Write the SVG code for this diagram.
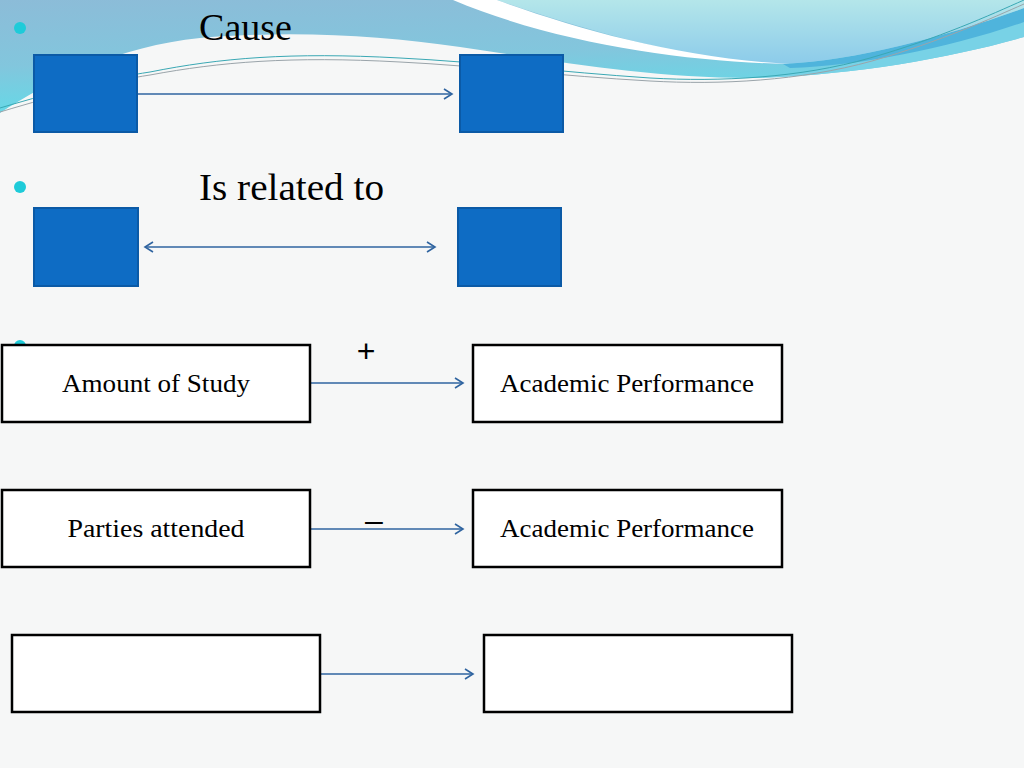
<svg xmlns="http://www.w3.org/2000/svg" width="1024" height="768" viewBox="0 0 1024 768">
<style>
.bullet{fill:#1ecbd9}
.sq{fill:#0e6cc4;stroke:#0b5aa6;stroke-width:2}
.box{fill:#ffffff;stroke:#000000;stroke-width:2.5}
.title{font-family:"Liberation Serif",serif;font-size:38px;fill:#000}
.lbl{font-family:"Liberation Serif",serif;font-size:25px;fill:#000;text-anchor:middle}
.sign{font-family:"Liberation Sans",sans-serif;font-size:32px;fill:#000;text-anchor:middle}
.conn{stroke:#2f64a0;stroke-width:1.6;fill:none}
</style>
<defs>
<marker id="arr" markerWidth="12" markerHeight="12" refX="9" refY="6" orient="auto" markerUnits="userSpaceOnUse">
<path d="M1,1 L9,6 L1,11" fill="none" stroke="#2f64a0" stroke-width="1.6"/>
</marker>
<marker id="arrS" markerWidth="12" markerHeight="12" refX="3" refY="6" orient="auto" markerUnits="userSpaceOnUse">
<path d="M11,1 L3,6 L11,11" fill="none" stroke="#2f64a0" stroke-width="1.6"/>
</marker>
<linearGradient id="gLeft" x1="0" y1="0" x2="0.25" y2="1">
<stop offset="0" stop-color="#8cbcd8"/>
<stop offset="0.55" stop-color="#82c6dd"/>
<stop offset="1" stop-color="#62dbe8"/>
</linearGradient>
<linearGradient id="gTop" x1="0" y1="0" x2="0" y2="1">
<stop offset="0" stop-color="#b4e6ea"/>
<stop offset="1" stop-color="#8ccbea"/>
</linearGradient>
</defs>
<rect width="1024" height="768" fill="#f6f7f7"/>
<g id="background">
<path d="M0,0 H1024 V37 C950,58 850,76 750,78 C650,78 560,62 460,47 C380,36 300,30 200,38 C120,46 50,80 0,113 Z" fill="url(#gLeft)"/>
<path d="M1024,37 C950,58 850,76 750,78 C800,74 880,60 950,40 C985,30 1005,22 1024,14 Z" fill="#78d2e6"/>
<path d="M783,64 C860,60 950,35 1024,8 V22 C950,48 860,66 790,68 Z" fill="#4fb4dc"/>
<path d="M497,0 H1024 V8 C950,35 860,60 783,64 C700,62 600,35 497,0 Z" fill="url(#gTop)"/>
<path d="M453,0 H497 C580,30 680,58 790,64 C690,62 560,45 453,0 Z" fill="#ffffff"/>
<path d="M0,108 C60,90 110,78 150,72 C220,58 290,52 400,58 C480,62 560,72 650,78 C720,82 800,78 870,58 C940,38 990,15 1024,0" fill="none" stroke="#3aa8b4" stroke-width="1"/>
<path d="M0,112 C60,94 110,81 150,75 C220,62 290,56 400,62 C480,66 560,76 650,81 C720,85 800,81 872,61 C942,41 992,18 1024,4" fill="none" stroke="#9aa4aa" stroke-width="1"/>
</g>
<g id="bullets">
<circle class="bullet" cx="20" cy="28" r="6"/>
<circle class="bullet" cx="20" cy="187" r="6"/>
<circle class="bullet" cx="20" cy="346" r="6"/>
</g>
<text class="title" x="199" y="40" textLength="93" lengthAdjust="spacingAndGlyphs">Cause</text>
<text class="title" x="199" y="200" textLength="185" lengthAdjust="spacingAndGlyphs">Is related to</text>
<g id="connectors">
<line class="conn" x1="137" y1="94" x2="452" y2="94" marker-end="url(#arr)"/>
<line class="conn" x1="145" y1="247" x2="435" y2="247" marker-start="url(#arrS)" marker-end="url(#arr)"/>
<line class="conn" x1="311" y1="383" x2="463" y2="383" marker-end="url(#arr)"/>
<line class="conn" x1="311" y1="529" x2="463" y2="529" marker-end="url(#arr)"/>
<line class="conn" x1="321" y1="674" x2="473" y2="674" marker-end="url(#arr)"/>
</g>
<g id="cause-a"><rect class="sq" x="34" y="55" width="103" height="77"/></g>
<g id="cause-b"><rect class="sq" x="460" y="55" width="103" height="77"/></g>
<g id="rel-a"><rect class="sq" x="34" y="208" width="104" height="78"/></g>
<g id="rel-b"><rect class="sq" x="458" y="208" width="103" height="78"/></g>
<g id="study"><rect class="box" x="2" y="345" width="308" height="77"/><text class="lbl" x="156" y="392" textLength="188" lengthAdjust="spacingAndGlyphs">Amount of Study</text></g>
<g id="perf1"><rect class="box" x="473" y="345" width="309" height="77"/><text class="lbl" x="627" y="392" textLength="254" lengthAdjust="spacingAndGlyphs">Academic Performance</text></g>
<g id="parties"><rect class="box" x="2" y="490" width="308" height="77"/><text class="lbl" x="156" y="537" textLength="177" lengthAdjust="spacingAndGlyphs">Parties attended</text></g>
<g id="perf2"><rect class="box" x="473" y="490" width="309" height="77"/><text class="lbl" x="627" y="537" textLength="254" lengthAdjust="spacingAndGlyphs">Academic Performance</text></g>
<g id="blank-a"><rect class="box" x="12" y="635" width="308" height="77"/></g>
<g id="blank-b"><rect class="box" x="484" y="635" width="308" height="77"/></g>
<text class="sign" x="366" y="362">+</text>
<text class="sign" x="374" y="531">–</text>
</svg>
